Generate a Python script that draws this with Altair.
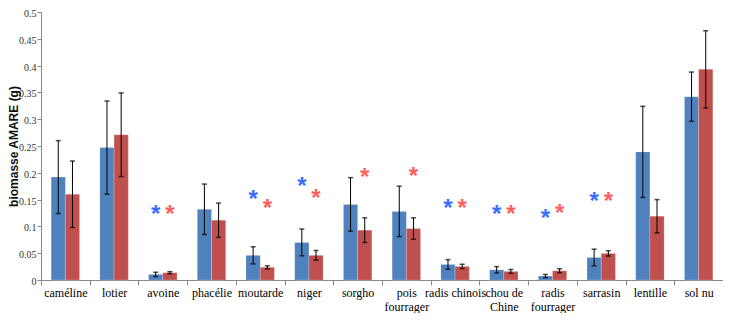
import altair as alt
import pandas as pd

categories = ["caméline", "lotier", "avoine", "phacélie", "moutarde", "niger", "sorgho",
              "pois|fourrager", "radis chinois", "chou de|Chine", "radis|fourrager",
              "sarrasin", "lentille", "sol nu"]
series = ["A", "B"]
blue_values = [0.192, 0.247, 0.0105, 0.132, 0.046, 0.070, 0.141, 0.128, 0.029, 0.019, 0.0074, 0.042, 0.239, 0.342]
blue_errors = [0.068, 0.087, 0.004, 0.047, 0.016, 0.025, 0.050, 0.047, 0.009, 0.006, 0.003, 0.0155, 0.085, 0.046]
red_values = [0.160, 0.271, 0.0136, 0.1115, 0.0236, 0.046, 0.093, 0.096, 0.0254, 0.016, 0.0173, 0.0496, 0.119, 0.393]
red_errors = [0.062, 0.078, 0.002, 0.032, 0.003, 0.009, 0.023, 0.020, 0.004, 0.0036, 0.0037, 0.005, 0.031, 0.072]

star_categories = ["avoine", "avoine", "moutarde", "moutarde", "niger", "niger", "sorgho",
                   "pois|fourrager", "radis chinois", "radis chinois", "chou de|Chine", "chou de|Chine",
                   "radis|fourrager", "radis|fourrager", "sarrasin", "sarrasin"]
star_series = ["A", "B", "A", "B", "A", "B", "B", "B", "A", "B", "A", "B", "A", "B", "A", "B"]
star_values = [0.131, 0.131, 0.158, 0.141, 0.183, 0.161, 0.200, 0.202, 0.141, 0.141,
               0.131, 0.131, 0.124, 0.133, 0.1555, 0.1555]

y_ticks = [0, 0.05, 0.1, 0.15, 0.2, 0.25, 0.3, 0.35, 0.4, 0.45, 0.5]

bar_colors = {"A": "#4F81BD", "B": "#C0504D"}
star_colors = {"A": "#3A6CFF", "B": "#FF5E5E"}

rows = []
for s, vals, errs in (("A", blue_values, blue_errors), ("B", red_values, red_errors)):
    for c, v, e in zip(categories, vals, errs):
        rows.append({"cat": c, "series": s, "value": v, "low": v - e, "high": v + e,
                     "color": bar_colors[s]})
df = pd.DataFrame(rows)

stars = pd.DataFrame({"cat": star_categories, "series": star_series, "value": star_values})
stars["color"] = stars["series"].map(star_colors)

x_axis = alt.Axis(labelAngle=0, tickBand="extent", labelExpr="split(datum.label, '|')",
                  labelFont="Liberation Sans Narrow", labelFontSize=12, labelColor="#000000",
                  labelPadding=2, labelLineHeight=14, tickSize=5, tickColor="#888888",
                  domainColor="#888888", labelBaseline="top", labelOverlap=False)
y_axis = alt.Axis(values=y_ticks, tickCount=11, format=".2~f", grid=False, labelOverlap=False,
                  labelFont="Liberation Sans Narrow", labelFontSize=10, labelColor="#333333",
                  tickSize=4, tickColor="#888888", domainColor="#888888", labelPadding=1,
                  labelOffset=1.5,
                  titleFont="Liberation Sans", titleFontSize=12, titleFontWeight="bold",
                  titleColor="#111111", titleX=-24, titleBaseline="alphabetic")
x_scale = alt.Scale(paddingInner=0, paddingOuter=0)
xo_scale = alt.Scale(paddingOuter=0.715, paddingInner=0)
y_scale = alt.Scale(domain=[0, 0.5], nice=False)
y_title = "biomasse AMARE (g)"


def xe():
    return alt.X("cat:N", sort=categories, title=None, scale=x_scale, axis=x_axis)


def xoe():
    return alt.XOffset("series:N", sort=series, scale=xo_scale)


def ye(field):
    return alt.Y(field, title=y_title, scale=y_scale, axis=y_axis)


base = alt.Chart(df)
bars = base.mark_bar(stroke="#ffffff", strokeOpacity=0.35, strokeWidth=0.6).encode(
    x=xe(), xOffset=xoe(), y=ye("value:Q"), color=alt.Color("color:N", scale=None))
rules = base.mark_rule(color="#000000", strokeWidth=1).encode(
    x=xe(), xOffset=xoe(), y=ye("low:Q"), y2="high:Q")
cap_low = base.mark_tick(color="#000000", size=5, thickness=1.5, orient="horizontal").encode(
    x=xe(), xOffset=xoe(), y=ye("low:Q"))
cap_high = base.mark_tick(color="#000000", size=5, thickness=1.5, orient="horizontal").encode(
    x=xe(), xOffset=xoe(), y=ye("high:Q"))
star_marks = alt.Chart(stars).mark_text(text="*", font="Liberation Sans", fontSize=24,
                                        fontWeight="bold", baseline="middle", dy=5).encode(
    x=xe(), xOffset=xoe(), y=ye("value:Q"), color=alt.Color("color:N", scale=None))

chart = alt.layer(bars, rules, cap_low, cap_high, star_marks).properties(
    width=682, height=268, autosize=alt.AutoSizeParams(type="none"),
    padding={"left": 33, "top": 4, "right": 0, "bottom": 33},
    background="#ffffff"
).configure_view(stroke=None)

chart.save("out.html", embed_options={"renderer": "svg", "actions": False})
